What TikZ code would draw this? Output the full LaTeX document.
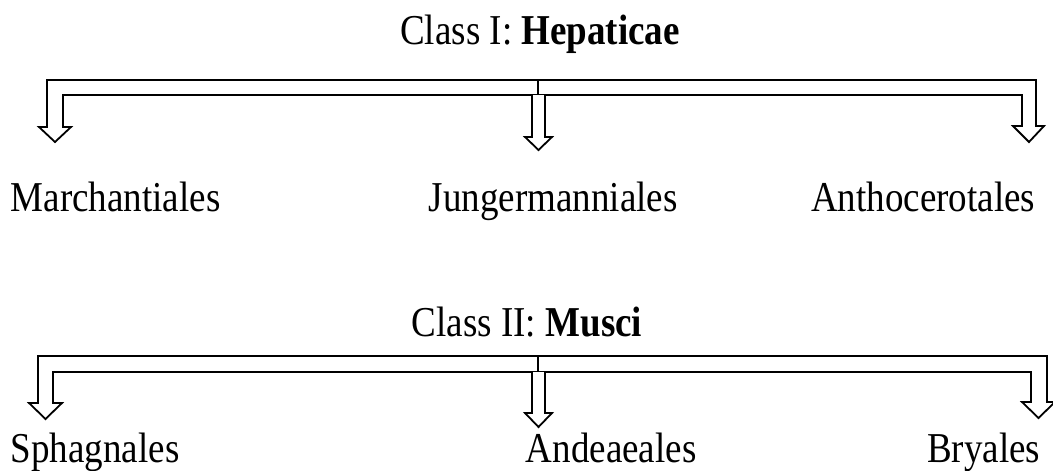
\documentclass[tikz,border=0pt]{standalone}
\usepackage{fontspec}
\setmainfont{Liberation Serif}

\tikzset{every picture/.style={line width=1.8pt}}
\newcommand{\tallname}[1]{\scalebox{1}[1.15]{#1}}

\begin{document}
\begin{tikzpicture}[x=1pt, y=-1pt,
                    line join=miter,
                    blockarrow/.style={draw=black, fill=white},
                    taxon/.style={font=\fontsize{37}{44}\selectfont, inner sep=0pt, anchor=base west}]
  \useasboundingbox (0,0) rectangle (1053,471);

  % class I
  \node[taxon, anchor=base] (hepaticae) at (540,45) {\tallname{Class I: \textbf{Hepaticae}}};
  \coordinate (hepfork) at (538,80);

  \draw[blockarrow] (47,127) -- (39,127) -- (55,142) -- (71,127) -- (63,127)
    -- (63,95) -- (1022,95) -- (1022,126) -- (1013,126) -- (1029,142)
    -- (1044,126) -- (1036,126) -- (1036,80) -- (47,80) -- cycle;
  \draw (hepfork) -- ++(0,15);
  \draw[blockarrow] ([xshift=-6]hepfork) ++(0,15) -- ++(0,42) -- ++(-7,0)
    -- ++(13.5,13) -- ++(13.5,-13) -- ++(-7,0) -- ++(0,-42);

  \node[taxon] (marchantiales) at (10,211) {\tallname{Marchantiales}};
  \node[taxon] (jungermanniales) at (428,211) {\tallname{Jungermanniales}};
  \node[taxon, anchor=base east] (anthocerotales) at (1036,211) {\tallname{Anthocerotales}};

  % class II
  \node[taxon, anchor=base] (musci) at (527,336) {\tallname{Class II: \textbf{Musci}}};
  \coordinate (muscifork) at (538,356);

  \draw[blockarrow] (38,403) -- (29,403) -- (45.5,419) -- (62,403) -- (53,403)
    -- (53,372) -- (1031,372) -- (1031,402) -- (1022,402) -- (1038.5,418)
    -- (1055,402) -- (1047,402) -- (1047,356) -- (38,356) -- cycle;
  \draw (muscifork) -- ++(0,16);
  \draw[blockarrow] ([xshift=-6]muscifork) ++(0,16) -- ++(0,41) -- ++(-7,0)
    -- ++(13.5,14) -- ++(13.5,-14) -- ++(-7,0) -- ++(0,-41);

  \node[taxon] (sphagnales) at (10,462) {\tallname{Sphagnales}};
  \node[taxon] (andeaeales) at (525,462) {\tallname{Andeaeales}};
  \node[taxon, anchor=base east] (bryales) at (1041,462) {\tallname{Bryales}};

\end{tikzpicture}
\end{document}
